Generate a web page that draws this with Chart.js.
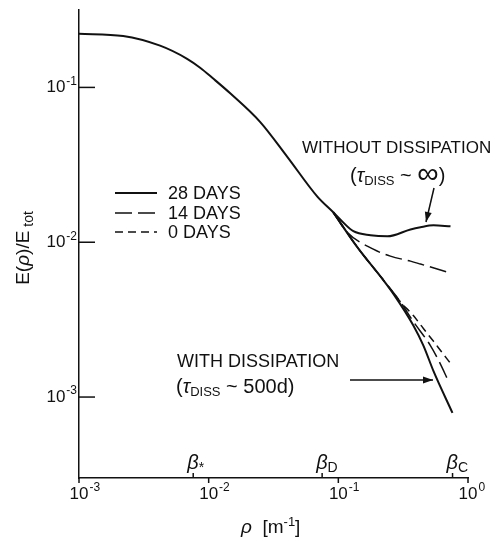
<!DOCTYPE html>
<html>
<head>
<meta charset="utf-8">
<script src="https://cdn.jsdelivr.net/npm/chart.js@4.4.1/dist/chart.umd.min.js"></script>
<style>
  html, body { margin: 0; padding: 0; background: #fff; }
  #wrap { width: 497px; height: 541px; }
</style>
</head>
<body>
<div id="wrap"><canvas id="spectrumChart" width="497" height="541"></canvas></div>
<script>
// rho [1/m] and E(rho)/Etot
var rhoCommon = [0.001, 0.00219, 0.00422, 0.00682, 0.00859, 0.01084, 0.01466, 0.025, 0.0404, 0.0689, 0.0914];
var eCommon   = [0.222, 0.215, 0.186, 0.153, 0.134, 0.114, 0.0916, 0.0597, 0.0356, 0.0197, 0.0156];

// without dissipation (tau ~ infinity)
var rho28Free = [0.0914, 0.1035, 0.1306, 0.177, 0.239, 0.360, 0.430, 0.542, 0.733];
var e28Free   = [0.0156, 0.01403, 0.01178, 0.0111, 0.01092, 0.0121, 0.0125, 0.01285, 0.01268];
var rho14Free = [0.0914, 0.117, 0.186, 0.252, 0.360, 0.430, 0.733];
var e14Free   = [0.0156, 0.01159, 0.00902, 0.00813, 0.00755, 0.00723, 0.00632];

// 0 days (initial spectrum)
var rho0 = [0.0914, 0.140, 0.219, 0.301, 0.379, 0.453, 0.542, 0.614, 0.733];
var e0   = [0.0156, 0.00929, 0.00579, 0.00412, 0.00336, 0.00277, 0.00229, 0.00200, 0.00165];

// with dissipation (tau ~ 500 d)
var rho28Diss = [0.0914, 0.140, 0.219, 0.266, 0.379, 0.453, 0.542, 0.759];
var e28Diss   = [0.0156, 0.00929, 0.00579, 0.00464, 0.0029, 0.00215, 0.00147, 0.00079];
var rho14Diss = [0.0914, 0.140, 0.219, 0.301, 0.379, 0.513, 0.592, 0.706];
var e14Diss   = [0.0156, 0.00929, 0.00579, 0.00412, 0.00307, 0.00215, 0.00173, 0.00127];

var legendLabels = ['28 DAYS', '14 DAYS', '0 DAYS'];

var xTickValues = [0.001, 0.01, 0.1, 1];
var xTickExps   = ['-3', '-2', '-1', '0'];
var yTickValues = [0.001, 0.01, 0.1];
var yTickExps   = ['-3', '-2', '-1'];

var betaValues = [0.0076, 0.075, 0.76];
var betaSubs   = ['*', 'D', 'C'];

var ink = '#111';
var FONT = '"Liberation Sans", Arial, sans-serif';
var longDash = [17, 6];
var shortDash = [8, 5];

function pts(xs, ys) {
  return xs.map(function (x, i) { return { x: x, y: ys[i] }; });
}

function series(label, xs, ys, dash, width) {
  return {
    label: label,
    data: pts(xs, ys),
    borderColor: ink,
    borderWidth: width,
    borderDash: dash,
    pointRadius: 0,
    fill: false,
    cubicInterpolationMode: 'monotone'
  };
}

function pieces(ctx, list, x, y) {
  ctx.textAlign = 'left';
  ctx.textBaseline = 'middle';
  list.forEach(function (p) {
    ctx.font = p[1];
    ctx.fillText(p[0], x, y + (p[2] || 0));
    x += ctx.measureText(p[0]).width;
  });
}

function measure(ctx, t, f) {
  ctx.font = f;
  return ctx.measureText(t).width;
}

function power(ctx, exp, x, y, align) {
  var w1 = measure(ctx, '10', '17px ' + FONT);
  var left = align === 'right' ? x - w1 - 1 - measure(ctx, exp, '12px ' + FONT) : x - w1 / 2;
  ctx.font = '17px ' + FONT;
  ctx.textAlign = 'left';
  ctx.textBaseline = 'middle';
  ctx.fillText('10', left, y);
  ctx.font = '12px ' + FONT;
  ctx.fillText(exp, left + w1 + 1, y - 6);
}

function seg(ctx, x1, y1, x2, y2) {
  ctx.beginPath();
  ctx.moveTo(x1, y1);
  ctx.lineTo(x2, y2);
  ctx.stroke();
}

function arrow(ctx, x1, y1, x2, y2) {
  seg(ctx, x1, y1, x2, y2);
  var ang = Math.atan2(y2 - y1, x2 - x1), L = 10, W = 3.5;
  ctx.beginPath();
  ctx.moveTo(x2, y2);
  ctx.lineTo(x2 - L * Math.cos(ang) + W * Math.sin(ang), y2 - L * Math.sin(ang) - W * Math.cos(ang));
  ctx.lineTo(x2 - L * Math.cos(ang) - W * Math.sin(ang), y2 - L * Math.sin(ang) + W * Math.cos(ang));
  ctx.closePath();
  ctx.fill();
}

var annotate = {
  id: 'annotate',
  afterDraw: function (chart) {
    var ctx = chart.ctx, xs = chart.scales.x, ys = chart.scales.y, a = chart.chartArea;
    ctx.save();
    ctx.strokeStyle = ink;
    ctx.fillStyle = ink;
    ctx.lineWidth = 1.5;

    // y ticks point inward
    ys.ticks.forEach(function (t, i) {
      var py = ys.getPixelForValue(t.value);
      seg(ctx, a.left, py, a.left + 16, py);
      power(ctx, yTickExps[i], a.left - 2, py, 'right');
    });
    // x ticks point outward
    xs.ticks.forEach(function (t, i) {
      var px = xs.getPixelForValue(t.value);
      seg(ctx, px, a.bottom, px, a.bottom + 5);
      power(ctx, xTickExps[i], px, a.bottom + 16, 'center');
    });
    // beta markers
    betaValues.forEach(function (v, i) {
      var px = xs.getPixelForValue(v);
      seg(ctx, px, a.bottom, px, a.bottom - 5);
      pieces(ctx, [['β', 'italic 20px ' + FONT, 0], [betaSubs[i], '14px ' + FONT, 5]], px - 6, a.bottom - 15);
    });

    // legend
    var rowsY = [193, 213, 232];
    legendLabels.forEach(function (lab, i) {
      var ds = chart.data.datasets[i];
      ctx.setLineDash(ds.borderDash);
      ctx.lineWidth = ds.borderWidth;
      seg(ctx, 115, rowsY[i], 157, rowsY[i]);
      ctx.setLineDash([]);
      ctx.font = '18px ' + FONT;
      ctx.textAlign = 'left';
      ctx.textBaseline = 'middle';
      ctx.fillText(lab, 168, rowsY[i] + 1);
    });
    ctx.lineWidth = 1.5;

    // annotations
    pieces(ctx, [['WITHOUT DISSIPATION', '17px ' + FONT, 0]], 302, 148);
    pieces(ctx, [['(', '20px ' + FONT, 0], ['τ', 'italic 20px ' + FONT, 0], ['DISS', '13px ' + FONT, 5],
                 [' ~ ', '20px ' + FONT, 0], ['∞', '30px ' + FONT, -1], [')', '20px ' + FONT, 0]], 350, 176);
    arrow(ctx, 434, 188, 426, 222);

    pieces(ctx, [['WITH DISSIPATION', '18px ' + FONT, 0]], 177, 362);
    pieces(ctx, [['(', '20px ' + FONT, 0], ['τ', 'italic 20px ' + FONT, 0], ['DISS', '13px ' + FONT, 5],
                 [' ~ 500d)', '20px ' + FONT, 0]], 176, 387);
    arrow(ctx, 350, 380, 433, 380);

    // axis titles
    pieces(ctx, [['ρ', 'italic 19px ' + FONT, 0], ['  [m', '19px ' + FONT, 0], ['-1', '13px ' + FONT, -6],
                 [']', '19px ' + FONT, 0]], 241, 528);
    ctx.translate(24, 248);
    ctx.rotate(-Math.PI / 2);
    var w = measure(ctx, 'E(', '19px ' + FONT) + measure(ctx, 'ρ', 'italic 19px ' + FONT) +
            measure(ctx, ')/E', '19px ' + FONT) + measure(ctx, ' tot', '14px ' + FONT);
    pieces(ctx, [['E(', '19px ' + FONT, 0], ['ρ', 'italic 19px ' + FONT, 0], [')/E', '19px ' + FONT, 0],
                 [' tot', '14px ' + FONT, 5]], -w / 2, 0);
    ctx.restore();
  }
};

var ctxS = document.getElementById('spectrumChart').getContext('2d');
var spectrumChart = new Chart(ctxS, {
  type: 'line',
  data: {
    datasets: [
      series('28 days, no dissipation', rhoCommon.concat(rho28Free.slice(1)), eCommon.concat(e28Free.slice(1)), [], 2),
      series('14 days, no dissipation', rho14Free, e14Free, longDash, 1.5),
      series('0 days', rho0, e0, shortDash, 1.5),
      series('28 days, dissipation', rho28Diss, e28Diss, [], 2),
      series('14 days, dissipation', rho14Diss, e14Diss, longDash, 1.5)
    ]
  },
  options: {
    responsive: false,
    animation: false,
    layout: { padding: { left: 0, right: 29, top: 10, bottom: 0 } },
    plugins: { legend: { display: false }, tooltip: { enabled: false } },
    scales: {
      x: {
        type: 'logarithmic',
        min: 0.001,
        max: 1,
        afterBuildTicks: function (s) { s.ticks = xTickValues.map(function (v) { return { value: v }; }); },
        afterFit: function (s) { s.height = 63; },
        ticks: { display: false },
        grid: { display: false },
        border: { display: true, color: ink, width: 1.5 }
      },
      y: {
        type: 'logarithmic',
        min: Math.pow(10, -3.5),
        max: Math.pow(10, -0.5),
        afterBuildTicks: function (s) { s.ticks = yTickValues.map(function (v) { return { value: v }; }); },
        afterFit: function (s) { s.width = 79; },
        ticks: { display: false },
        grid: { display: false },
        border: { display: true, color: ink, width: 1.5 }
      }
    }
  },
  plugins: [annotate]
});
</script>
</body>
</html>
